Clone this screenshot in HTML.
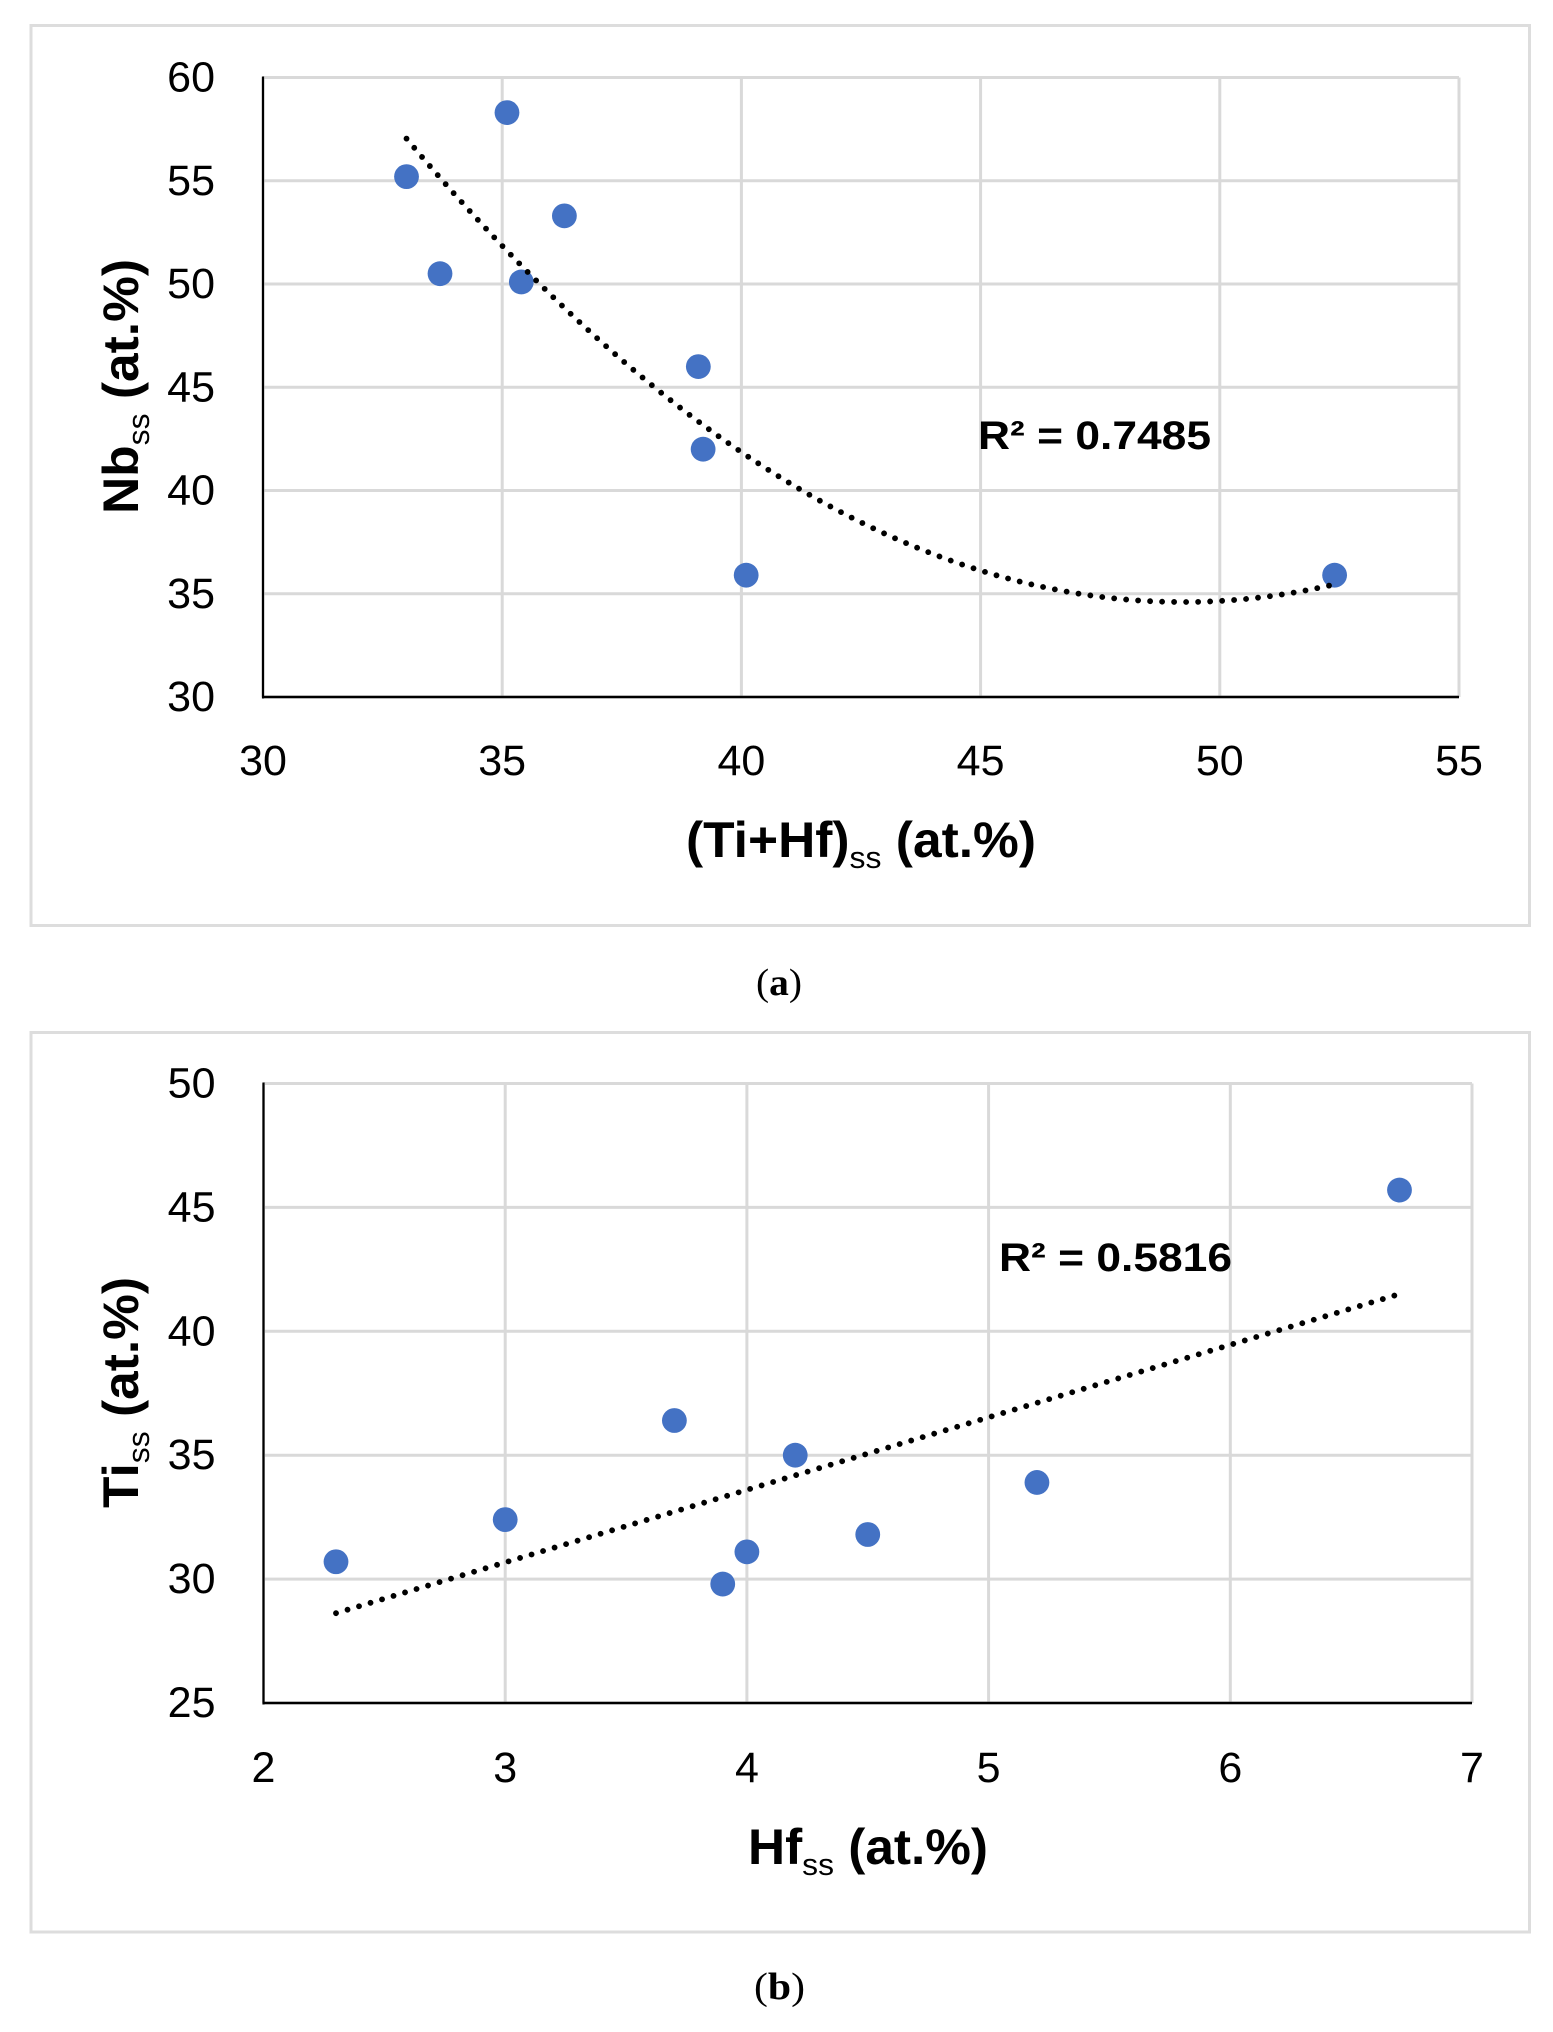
<!DOCTYPE html>
<html lang="en">
<head>
<meta charset="utf-8">
<title>Scatter charts</title>
<style>
html,body{margin:0;padding:0;background:#fff;}
svg{display:block;}
text{font-family:"Liberation Sans",sans-serif;fill:#000;}
.tick{font-size:43px;}
.title{font-size:50px;font-weight:bold;}
.sub{font-size:31px;font-weight:normal;}
.r2{font-size:40px;font-weight:bold;}
.cap{font-family:"Liberation Serif",serif;font-size:38px;}
</style>
</head>
<body>
<svg id="fig" xmlns="http://www.w3.org/2000/svg" width="1553" height="2032" viewBox="0 0 1553 2032">
  <rect x="0" y="0" width="1553" height="2032" fill="#fff"/>
  <rect x="31" y="25.5" width="1498.5" height="900" fill="#fff" stroke="#dddddd" stroke-width="3"/>
  <rect x="31" y="1032.5" width="1498.5" height="899.5" fill="#fff" stroke="#dddddd" stroke-width="3"/>
  <g id="chart-a"></g>
  <g id="chart-b"></g>

  <text class="title" x="686" y="857" textLength="350" lengthAdjust="spacingAndGlyphs">(Ti+Hf)<tspan class="sub" dy="11">ss</tspan><tspan dy="-11"> (at.%)</tspan></text>
  <text class="title" transform="translate(138,514) rotate(-90)" x="0" y="0" textLength="255" lengthAdjust="spacingAndGlyphs">Nb<tspan class="sub" dy="11">ss</tspan><tspan dy="-11"> (at.%)</tspan></text>
  <text class="r2" x="978" y="449" textLength="233" lengthAdjust="spacingAndGlyphs">R² = 0.7485</text>
  <text class="cap" x="756" y="995" textLength="46" lengthAdjust="spacingAndGlyphs">(<tspan font-weight="bold">a</tspan>)</text>

  <text class="title" x="748" y="1864" textLength="240" lengthAdjust="spacingAndGlyphs">Hf<tspan class="sub" dy="11">ss</tspan><tspan dy="-11"> (at.%)</tspan></text>
  <text class="title" transform="translate(138,1508) rotate(-90)" x="0" y="0" textLength="231" lengthAdjust="spacingAndGlyphs">Ti<tspan class="sub" dy="11">ss</tspan><tspan dy="-11"> (at.%)</tspan></text>
  <text class="r2" x="999" y="1271" textLength="233" lengthAdjust="spacingAndGlyphs">R² = 0.5816</text>
  <text class="cap" x="754" y="1999" textLength="51" lengthAdjust="spacingAndGlyphs">(<tspan font-weight="bold">b</tspan>)</text>
</svg>
<script>
var aXTicks = [30, 35, 40, 45, 50, 55];
var aYTicks = [30, 35, 40, 45, 50, 55, 60];
var aXValues = [33, 33.7, 35.1, 35.4, 36.3, 39.1, 39.2, 40.1, 52.4];
var aYValues = [55.2, 50.5, 58.3, 50.1, 53.3, 46, 42, 35.9, 35.9];

var bXTicks = [2, 3, 4, 5, 6, 7];
var bYTicks = [25, 30, 35, 40, 45, 50];
var bXValues = [2.3, 3, 3.7, 3.9, 4, 4.2, 4.5, 5.2, 6.7];
var bYValues = [30.7, 32.4, 36.4, 29.8, 31.1, 35, 31.8, 33.9, 45.7];

var SVGNS = 'http://www.w3.org/2000/svg';

function make(parent, tag, attrs) {
  var el = document.createElementNS(SVGNS, tag);
  for (var k in attrs) { el.setAttribute(k, attrs[k]); }
  parent.appendChild(el);
  return el;
}

// Least-squares polynomial: this is what the spreadsheet trendline shows.
function polyfit(xs, ys, degree) {
  var n = degree + 1, m = [], i, j, k;
  for (i = 0; i < n; i++) {
    m[i] = [];
    for (j = 0; j < n; j++) {
      var s = 0;
      for (k = 0; k < xs.length; k++) { s += Math.pow(xs[k], i + j); }
      m[i][j] = s;
    }
    var t = 0;
    for (k = 0; k < xs.length; k++) { t += ys[k] * Math.pow(xs[k], i); }
    m[i][n] = t;
  }
  for (i = 0; i < n; i++) {
    var p = i;
    for (j = i + 1; j < n; j++) { if (Math.abs(m[j][i]) > Math.abs(m[p][i])) { p = j; } }
    var tmp = m[i]; m[i] = m[p]; m[p] = tmp;
    for (j = i + 1; j < n; j++) {
      var f = m[j][i] / m[i][i];
      for (k = i; k <= n; k++) { m[j][k] -= f * m[i][k]; }
    }
  }
  var c = [];
  for (i = n - 1; i >= 0; i--) {
    var v = m[i][n];
    for (j = i + 1; j < n; j++) { v -= m[i][j] * c[j]; }
    c[i] = v / m[i][i];
  }
  return c;
}

function drawChart(g, prefix, box, xTicks, yTicks, xs, ys, degree) {
  var xMin = xTicks[0], xMax = xTicks[xTicks.length - 1];
  var yMin = yTicks[0], yMax = yTicks[yTicks.length - 1];
  function xPos(v) { return box.left + (v - xMin) / (xMax - xMin) * (box.right - box.left); }
  function yPos(v) { return box.bottom - (v - yMin) / (yMax - yMin) * (box.bottom - box.top); }

  yTicks.forEach(function (t) {
    var line = make(g, 'line', {x1: box.left, x2: box.right, y1: yPos(t), y2: yPos(t), stroke: '#d9d9d9', 'stroke-width': 3});
    
    
    var label = make(g, 'text', {'class': 'tick', x: box.left - 48, y: yPos(t) + 14, 'text-anchor': 'end'});
    
    
    label.textContent = t;
  });
  xTicks.forEach(function (t) {
    var line = make(g, 'line', {x1: xPos(t), x2: xPos(t), y1: box.top, y2: box.bottom, stroke: '#d9d9d9', 'stroke-width': 3});
    
    
    var label = make(g, 'text', {'class': 'tick', x: xPos(t), y: box.tickBase, 'text-anchor': 'middle'});
    
    
    label.textContent = t;
  });

  var yAxis = make(g, 'line', {x1: box.left, x2: box.left, y1: box.top - 1, y2: box.bottom + 1.5, stroke: '#000', 'stroke-width': 2.2});
  
  
  var xAxis = make(g, 'line', {x1: box.left - 1, x2: box.right, y1: box.bottom, y2: box.bottom, stroke: '#000', 'stroke-width': 2.6});
  
  

  xs.forEach(function (x, i) {
    var dot = make(g, 'circle', {cx: xPos(x), cy: yPos(ys[i]), r: 12.4, fill: '#4472c4'});
    
    
  });

  var coef = polyfit(xs, ys, degree);
  var lo = Math.min.apply(null, xs), hi = Math.max.apply(null, xs);
  var d = '';
  for (var s = 0; s <= 200; s++) {
    var xv = lo + (hi - lo) * s / 200, yv = 0;
    for (var c = 0; c < coef.length; c++) { yv += coef[c] * Math.pow(xv, c); }
    d += (s ? 'L' : 'M') + xPos(xv).toFixed(2) + ' ' + yPos(yv).toFixed(2);
  }
  var trend = make(g, 'path', {d: d, fill: 'none', stroke: '#000', 'stroke-width': 5.8, 'stroke-linecap': 'round', 'stroke-dasharray': '0.01 12'});
  
  
}

drawChart(document.getElementById('chart-a'), 'chart-a',
  {left: 263, right: 1459, top: 77.5, bottom: 697, tickBase: 775},
  aXTicks, aYTicks, aXValues, aYValues, 2);
drawChart(document.getElementById('chart-b'), 'chart-b',
  {left: 263.5, right: 1472, top: 1083.5, bottom: 1703, tickBase: 1782},
  bXTicks, bYTicks, bXValues, bYValues, 1);
</script>
</body>
</html>
